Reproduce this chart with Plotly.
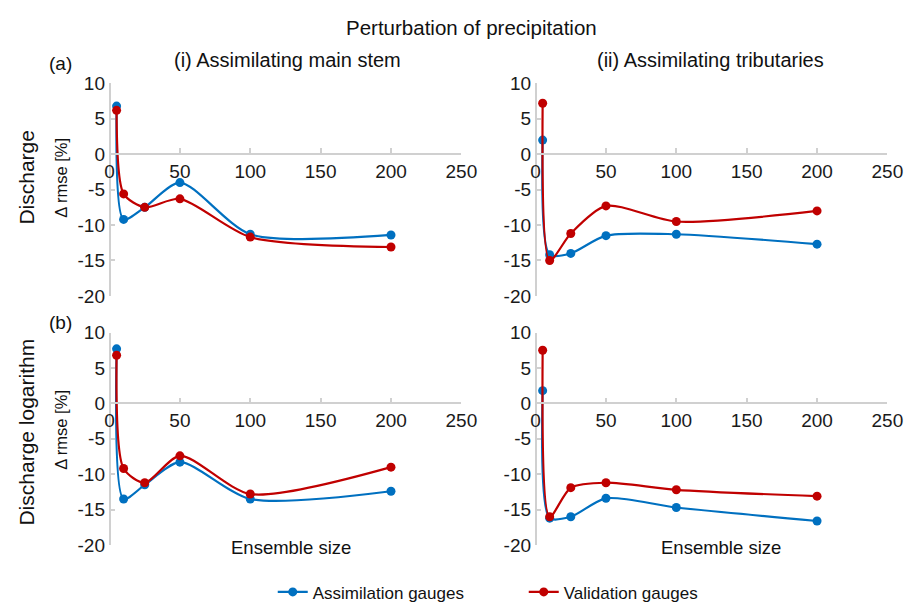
import plotly.graph_objects as go

ensemble = [5, 10, 25, 50, 100, 200]

a_main_assim = [6.8, -9.2, -7.5, -4.0, -11.3, -11.4]
a_main_valid = [6.2, -5.6, -7.5, -6.3, -11.7, -13.1]
a_trib_assim = [2.0, -14.2, -14.0, -11.5, -11.3, -12.7]
a_trib_valid = [7.2, -15.0, -11.2, -7.3, -9.5, -8.0]
b_main_assim = [7.7, -13.5, -11.5, -8.3, -13.5, -12.4]
b_main_valid = [6.8, -9.2, -11.2, -7.4, -12.8, -9.0]
b_trib_assim = [1.8, -16.2, -16.0, -13.4, -14.7, -16.6]
b_trib_valid = [7.5, -16.0, -11.9, -11.2, -12.2, -13.1]

series_names = ["Assimilation gauges", "Validation gauges"]
colors = ["#0070C0", "#C00000"]

y_tick_vals = [-20, -15, -10, -5, 0, 5, 10]
y_tick_text = ["-20", "-15", "-10", "-5", "0", "5", "10"]
x_tick_vals = [0, 50, 100, 150, 200, 250]

W, H = 920, 614
FONT = "Liberation Sans, Arial, sans-serif"
GREY = "#D0D0D0"

def px_x(p):
    return p / W

def px_y(p):
    return 1 - p / H

xdoms = [[px_x(107), px_x(467)], [px_x(543), px_x(903)]]
ydoms = [[px_y(296), px_y(76)], [px_y(554), px_y(334)]]

panels = [
    (a_main_assim, a_main_valid, 0, 0),
    (a_trib_assim, a_trib_valid, 0, 1),
    (b_main_assim, b_main_valid, 1, 0),
    (b_trib_assim, b_trib_valid, 1, 1),
]

fig = go.Figure()
layout = {}
for i, (sa, sv, r, c) in enumerate(panels):
    n = i + 1
    xa = "x" if n == 1 else f"x{n}"
    ya = "y" if n == 1 else f"y{n}"
    for k, s in enumerate([sa, sv]):
        fig.add_trace(go.Scatter(
            x=ensemble, y=s, xaxis=xa, yaxis=ya,
            mode="lines+markers", name=series_names[k],
            showlegend=(i == 0),
            line=dict(color=colors[k], width=2.2, shape="spline", smoothing=0.75),
            marker=dict(color=colors[k], size=9),
        ))
    yd = ydoms[r]
    zero_pos = yd[1] - (yd[1] - yd[0]) * (10 / 30)
    layout["xaxis" if n == 1 else f"xaxis{n}"] = dict(
        domain=xdoms[c], anchor="free", position=zero_pos,
        range=[0, 250], tickvals=x_tick_vals,
        showgrid=False, zeroline=False, showline=True, linecolor=GREY, linewidth=1.5,
        ticks="inside", ticklen=5, tickcolor=GREY, tickwidth=1.5,
        tickfont=dict(family=FONT, size=19, color="#1a1a1a"),
    )
    layout["yaxis" if n == 1 else f"yaxis{n}"] = dict(
        domain=yd, anchor="free", position=xdoms[c][0],
        range=[-20, 10], tickvals=y_tick_vals, ticktext=y_tick_text,
        ticksuffix="\u00a0",
        showgrid=False, zeroline=False, showline=True, linecolor=GREY, linewidth=1.5,
        ticks="inside", ticklen=5, tickcolor=GREY, tickwidth=1.5,
        tickfont=dict(family=FONT, size=19, color="#1a1a1a"),
    )

annotations = [
    dict(text="Perturbation of precipitation", x=px_x(477), y=px_y(18), size=20.5),
    dict(text="(i) Assimilating main stem", x=px_x(289), y=px_y(52), size=20),
    dict(text="(ii) Assimilating tributaries", x=px_x(722), y=px_y(52), size=20),
    dict(text="(a)", x=px_x(57), y=px_y(55), size=19),
    dict(text="(b)", x=px_x(57), y=px_y(324), size=19),
    dict(text="Ensemble size", x=px_x(293), y=px_y(557), size=18.5),
    dict(text="Ensemble size", x=px_x(733), y=px_y(557), size=18.5),
    dict(text="Discharge", x=px_x(22), y=px_y(173), size=21),
    dict(text="Δ rmse [%]", x=px_x(57), y=px_y(174), size=16.5),
    dict(text="Discharge logarithm", x=px_x(22), y=px_y(437), size=21),
    dict(text="Δ rmse [%]", x=px_x(57), y=px_y(435), size=16.5),
]
rotated = {"Discharge", "Δ rmse [%]", "Discharge logarithm"}
layout["annotations"] = [
    dict(text=a["text"], x=a["x"], y=a["y"], xref="paper", yref="paper",
         xanchor="center", yanchor="middle", showarrow=False,
         textangle=-90 if a["text"] in rotated else 0,
         font=dict(family=FONT, size=a["size"], color="#111"))
    for a in annotations
]

fig.update_layout(
    width=W, height=H,
    margin=dict(l=0, r=0, t=0, b=0),
    paper_bgcolor="white", plot_bgcolor="white",
    showlegend=True,
    legend=dict(orientation="h", x=px_x(274), y=px_y(603), xanchor="left", yanchor="middle",
                font=dict(family=FONT, size=17, color="#111"),
                entrywidth=206, entrywidthmode="pixels",
                tracegroupgap=0, bgcolor="rgba(0,0,0,0)"),
    **layout,
)

fig.write_html("out.html")
